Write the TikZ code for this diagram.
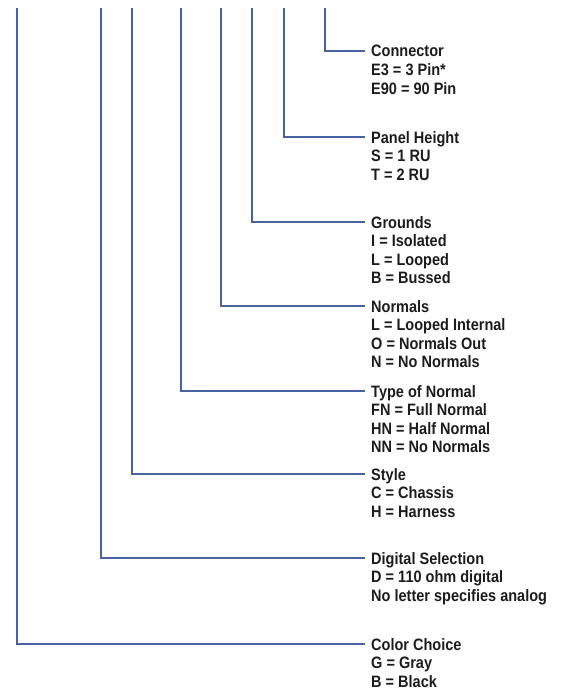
\documentclass[tikz,border=0pt]{standalone}
\usepackage{fontspec}
\setmainfont{Liberation Sans}
\newfontfamily\labelfont[FakeStretch=0.88]{Liberation Sans}
\usetikzlibrary{positioning}
\definecolor{leadblue}{RGB}{72,98,162}
\definecolor{ink}{RGB}{28,28,28}
\tikzset{
	lead/.style={draw=leadblue,line width=2pt},
	head/.style={anchor=west,inner xsep=6pt,inner ysep=0pt,text height=12pt,text depth=0pt,text=ink,font=\labelfont\fontsize{16.5}{18.5}\selectfont\bfseries},
	opts/.style={anchor=north west,inner xsep=6pt,inner ysep=0pt,align=left,text=ink,font=\labelfont\fontsize{16.5}{18.5}\selectfont\bfseries}
}
\begin{document}
\begin{tikzpicture}[x=1pt,y=1pt]
	\useasboundingbox (0,0) rectangle (572,-690);
	\coordinate (A) at (17,-8);
	\coordinate (B) at (101,-8);
	\coordinate (C) at (132,-8);
	\coordinate (D) at (181,-8);
	\coordinate (E) at (221,-8);
	\coordinate (F) at (252,-8);
	\coordinate (G) at (284,-8);
	\coordinate (H) at (325,-8);

	\node [head] (conn) at (365,-51) {Connector};
	\node [opts] (connopt) at ([yshift=-5.5pt]conn.south west) {\strut E3 = 3 Pin*\\E90 = 90 Pin};
	\node [head] (height) at (365,-137) {Panel Height};
	\node [opts] (heightopt) at ([yshift=-5.5pt]height.south west) {\strut S = 1 RU\\T = 2 RU};
	\node [head] (grnd) at (365,-222) {Grounds};
	\node [opts] (grndopt) at ([yshift=-5.5pt]grnd.south west) {\strut I = Isolated\\L = Looped\\B = Bussed};
	\node [head] (norm) at (365,-306) {Normals};
	\node [opts] (normopt) at ([yshift=-5.5pt]norm.south west) {\strut L = Looped Internal\\O = Normals Out\\N = No Normals};
	\node [head] (ntype) at (365,-391) {Type of Normal};
	\node [opts] (ntypeopt) at ([yshift=-5.5pt]ntype.south west) {\strut FN = Full Normal\\HN = Half Normal\\NN = No Normals};
	\node [head] (stl) at (365,-474) {Style};
	\node [opts] (stlopt) at ([yshift=-5.5pt]stl.south west) {\strut C = Chassis\\H = Harness};
	\node [head] (digi) at (365,-558) {Digital Selection};
	\node [opts] (digiopt) at ([yshift=-5.5pt]digi.south west) {\strut D = 110 ohm digital\\No letter specifies analog};
	\node [head] (colr) at (365,-644) {Color Choice};
	\node [opts] (colropt) at ([yshift=-5.5pt]colr.south west) {\strut G = Gray\\B = Black};

	\draw [lead] (H) |- (conn);
	\draw [lead] (G) |- (height);
	\draw [lead] (F) |- (grnd);
	\draw [lead] (E) |- (norm);
	\draw [lead] (D) |- (ntype);
	\draw [lead] (C) |- (stl);
	\draw [lead] (B) |- (digi);
	\draw [lead] (A) |- (colr);
\end{tikzpicture}
\end{document}
